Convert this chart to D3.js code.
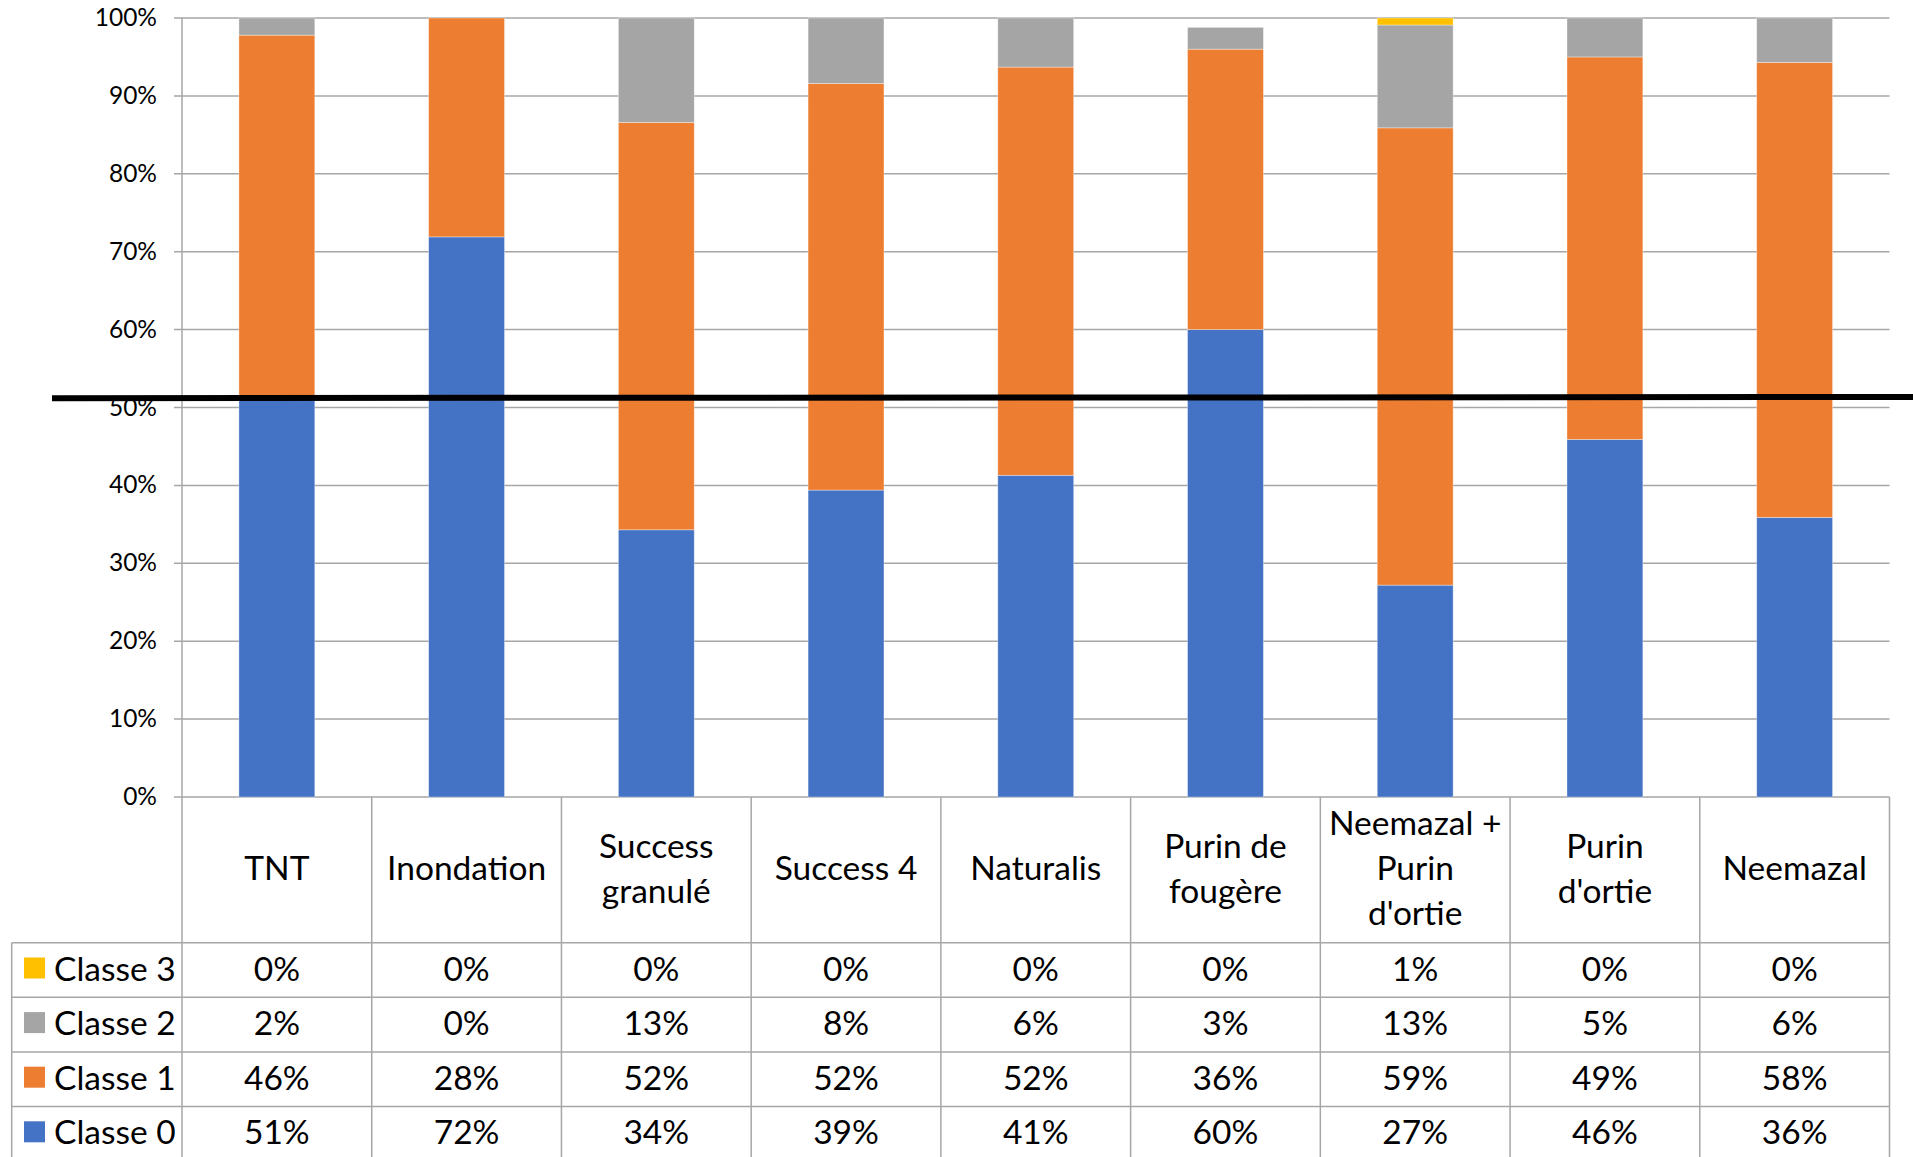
<!DOCTYPE html>
<html>
<head>
<meta charset="utf-8">
<script src="https://cdn.jsdelivr.net/npm/d3@7"></script>
<style>
  html, body { margin: 0; padding: 0; background: #ffffff; }
  svg { display: block; }
  text { font-family: Lato, "Noto Sans", sans-serif; fill: #000; }
</style>
</head>
<body>
<script>
// ---------- DATA ----------
const categories = ["TNT", "Inondation", "Success granulé", "Success 4", "Naturalis",
                    "Purin de fougère", "Neemazal + Purin d'ortie", "Purin d'ortie", "Neemazal"];
const categoryLines = [["TNT"], ["Inondation"], ["Success", "granulé"], ["Success 4"], ["Naturalis"],
                       ["Purin de", "fougère"], ["Neemazal +", "Purin", "d'ortie"], ["Purin", "d'ortie"], ["Neemazal"]];
const series = ["Classe 0", "Classe 1", "Classe 2", "Classe 3"];
const classe0 = [51.4, 71.9, 34.3, 39.4, 41.3, 60.0, 27.2, 45.9, 35.9];
const classe1 = [46.4, 28.1, 52.3, 52.2, 52.4, 36.0, 58.7, 49.1, 58.4];
const classe2 = [2.2, 0.0, 13.4, 8.4, 6.3, 2.8, 13.2, 5.0, 5.7];
const classe3 = [0.0, 0.0, 0.0, 0.0, 0.0, 0.0, 0.9, 0.0, 0.0];
const yTicks = [0, 10, 20, 30, 40, 50, 60, 70, 80, 90, 100];
const threshold = [51.2, 51.35]; // hand-drawn reference line (left, right)
const colors = {"Classe 0": "#4472C4", "Classe 1": "#ED7D31", "Classe 2": "#A5A5A5", "Classe 3": "#FFC000"};

// ---------- LAYOUT ----------
const W = 1913, H = 1157;
const plotL = 182, plotR = 1889.5, plotT = 18, plotB = 797;
const tableL = 11.7, headerB = 942.7, rowH = 54.6;
const gridColor = "#a6a6a6";
const textDy = -2.5;

const svg = d3.select("body").append("svg").attr("width", W).attr("height", H);

const x = d3.scaleBand().domain(categories).range([plotL, plotR]).paddingInner(0.6).paddingOuter(0.3);
const y = d3.scaleLinear().domain([0, 100]).range([plotB, plotT]);
const step = x.step();
const colLeft = c => x(c) - step * 0.3;
const colCenter = c => x(c) + x.bandwidth() / 2;

// gridlines
svg.append("g").selectAll("line").data(yTicks).join("line")
  .attr("x1", plotL - 8).attr("x2", plotR)
  .attr("y1", d => y(d)).attr("y2", d => y(d))
  .attr("stroke", gridColor).attr("stroke-width", 1.5);

// y tick labels
svg.append("g").selectAll("text").data(yTicks).join("text")
  .attr("x", 157).attr("y", d => y(d) - 1.5)
  .attr("text-anchor", "end").attr("dominant-baseline", "central")
  .style("font-size", "24.5px")
  .text(d => d + "%");

// stacked bars
const rows = categories.map((c, i) => ({
  cat: c, "Classe 0": classe0[i], "Classe 1": classe1[i], "Classe 2": classe2[i], "Classe 3": classe3[i]
}));
const stacked = d3.stack().keys(series)(rows);
svg.append("g").selectAll("g").data(stacked).join("g")
  .attr("fill", d => colors[d.key])
  .selectAll("rect").data(d => d).join("rect")
  .attr("x", d => x(d.data.cat))
  .attr("width", x.bandwidth())
  .attr("y", d => y(d[1]))
  .attr("height", d => Math.max(0, y(d[0]) - y(d[1])))
  .attr("stroke", "#ffffff").attr("stroke-opacity", 0.45).attr("stroke-width", 0.8);

// ---------- DATA TABLE ----------
const nRows = series.length;
const tableB = headerB + rowH * nRows;
const tg = svg.append("g");

tg.append("line").attr("x1", plotL).attr("x2", plotL).attr("y1", plotT).attr("y2", tableB)
  .attr("stroke", gridColor).attr("stroke-width", 1.5);
tg.selectAll("line.col").data(categories.slice(1)).join("line").attr("class", "col")
  .attr("x1", d => colLeft(d)).attr("x2", d => colLeft(d))
  .attr("y1", plotB).attr("y2", tableB)
  .attr("stroke", gridColor).attr("stroke-width", 1.5);
tg.append("line").attr("x1", plotR).attr("x2", plotR).attr("y1", plotB).attr("y2", tableB)
  .attr("stroke", gridColor).attr("stroke-width", 1.5);
tg.append("line").attr("x1", tableL).attr("x2", tableL).attr("y1", headerB).attr("y2", tableB)
  .attr("stroke", gridColor).attr("stroke-width", 1.5);

const rowLines = d3.range(nRows).map(i => headerB + i * rowH);
tg.selectAll("line.row").data(rowLines).join("line").attr("class", "row")
  .attr("x1", tableL).attr("x2", plotR)
  .attr("y1", d => d).attr("y2", d => d)
  .attr("stroke", gridColor).attr("stroke-width", 1.5);

// header labels
const hdrMid = (plotB + headerB) / 2;
const lineGap = 45;
categories.forEach((c, i) => {
  const lines = categoryLines[i];
  const t = tg.append("text").attr("text-anchor", "middle").style("font-size", "33.5px");
  lines.forEach((ln, j) => {
    t.append("tspan").attr("x", colCenter(c))
      .attr("y", hdrMid + textDy + (j - (lines.length - 1) / 2) * lineGap)
      .attr("dominant-baseline", "central")
      .text(ln);
  });
});

// table rows (Classe 3 on top)
const tableSeries = series.slice().reverse();
const seriesValues = {"Classe 0": classe0, "Classe 1": classe1, "Classe 2": classe2, "Classe 3": classe3};
tableSeries.forEach((s, r) => {
  const cy = headerB + r * rowH + rowH / 2;
  tg.append("rect").attr("x", 24).attr("y", cy - 12.5).attr("width", 21).attr("height", 21)
    .attr("fill", colors[s]);
  tg.append("text").attr("x", 54).attr("y", cy + textDy).attr("dominant-baseline", "central")
    .style("font-size", "33.5px").text(s);
  categories.forEach((c, i) => {
    tg.append("text").attr("x", colCenter(c)).attr("y", cy + textDy)
      .attr("text-anchor", "middle").attr("dominant-baseline", "central")
      .style("font-size", "33.5px")
      .text(d3.format(".0f")(seriesValues[s][i]) + "%");
  });
});

// black reference line
svg.append("line")
  .attr("x1", 52).attr("x2", W)
  .attr("y1", y(threshold[0])).attr("y2", y(threshold[1]))
  .attr("stroke", "#000").attr("stroke-width", 6);
</script>
</body>
</html>
